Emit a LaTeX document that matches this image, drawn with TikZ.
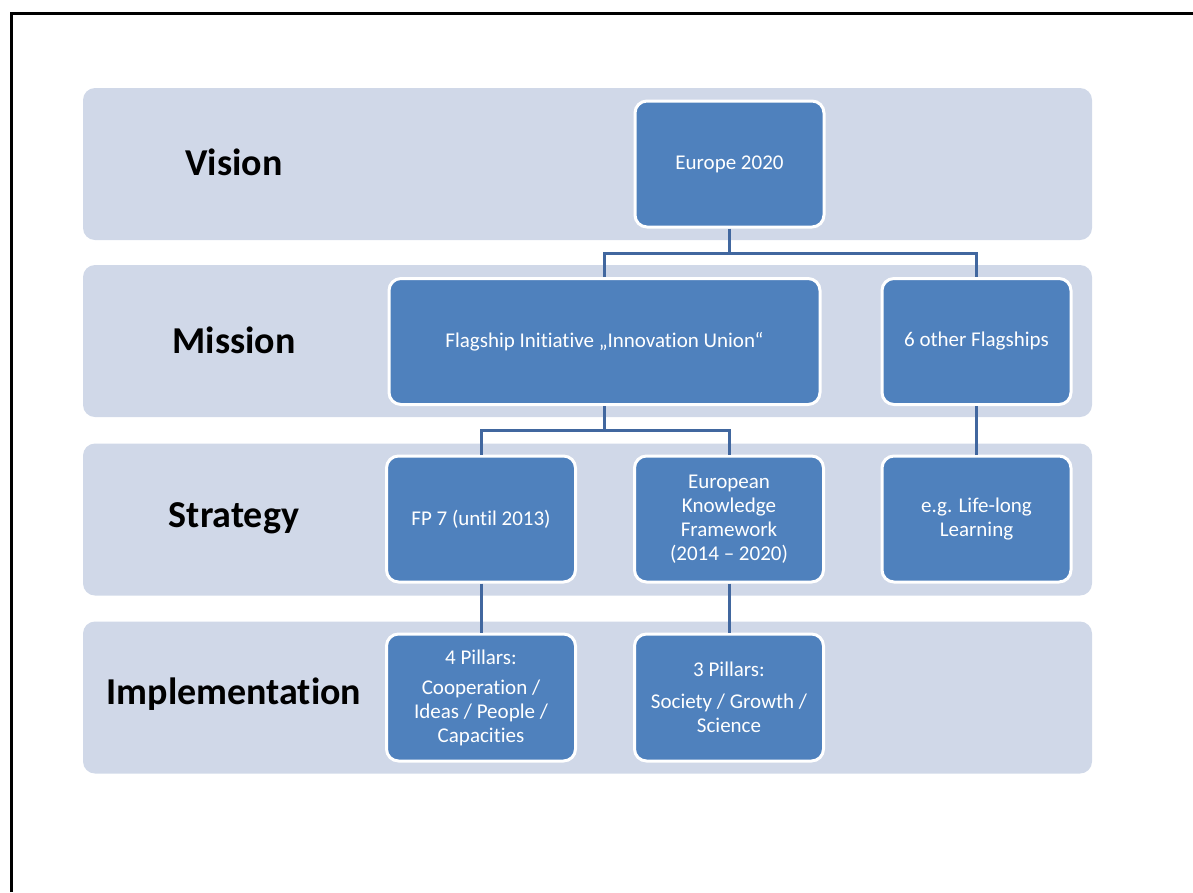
\documentclass[tikz,border=0pt]{standalone}
\usepackage{fontspec}
\setmainfont{Carlito}[Ligatures=NoCommon]
\usetikzlibrary{positioning}
\definecolor{bandfill}{HTML}{D0D8E8}
\definecolor{boxfill}{HTML}{4F81BD}
\definecolor{linkcol}{HTML}{41679F}
\tikzset{
  band/.style={fill=bandfill, rounded corners=12, minimum width=1009, minimum height=152, inner sep=0},
  level/.style={font=\fontsize{38}{42}\selectfont\bfseries},
  box/.style={fill=boxfill, draw=white, line width=3, rounded corners=12, text=white,
    align=center, minimum width=189, minimum height=126, inner sep=2,
    font=\fontsize{21}{24}\selectfont},
  link/.style={draw=linkcol, line width=3}
}
\begin{document}
\begin{tikzpicture}[x=1pt,y=-1pt]
\useasboundingbox (0,0) rectangle (1193,892);
\draw[line width=3] (11.5,892) -- (11.5,13.5) -- (1193,13.5);

% bands
\node[band] (vband) at (587.5,164) {};
\node[band] (mband) at (587.5,341) {};
\node[band] (sband) at (587.5,519.5) {};
\node[band] (iband) at (587.5,697.5) {};

% level labels
\node[level] (vision) at (234,162) {Vision};
\node[level] (mission) at (234,340) {Mission};
\node[level] (strategy) at (234,518) {Strategy};
\node[level] (implem) at (234,694) {Implementation};

% connectors
\coordinate (j1) at (729.5,253);
\coordinate (j2) at (604.5,430);

% boxes
\node[box] (europe) at (729.5,164) {Europe 2020};
\node[box, minimum width=431] (flag) at (604.5,341.5) {Flagship Initiative „Innovation Union“};
\node[box] (other) at (976.5,341.5) {6 other Flagships};
\node[box] (fp7) at (481,519) {FP 7 (until 2013)};
\node[box] (ekf) at (729,519) {European\\Knowledge\\Framework\\(2014 – 2020)};
\node[box] (lll) at (976.5,519) {e.g. Life-long\\Learning};
\node[box, minimum height=127] (pil4) at (481,697.5) {4 Pillars:\\[6pt]Cooperation /\\Ideas / People /\\Capacities};
\node[box, minimum height=127] (pil3) at (729,697.5) {3 Pillars:\\[8pt]Society / Growth /\\Science};

\draw[link] (europe.south) -- (j1);
\draw[link] (flag.north) |- (j1) -| (other.north);
\draw[link] (flag.south) -- (j2);
\draw[link] (fp7.north) |- (j2) -| (ekf.north);
\draw[link] (other.south) -- (lll.north);
\draw[link] (fp7.south) -- (pil4.north);
\draw[link] (ekf.south) -- (pil3.north);
\end{tikzpicture}
\end{document}
